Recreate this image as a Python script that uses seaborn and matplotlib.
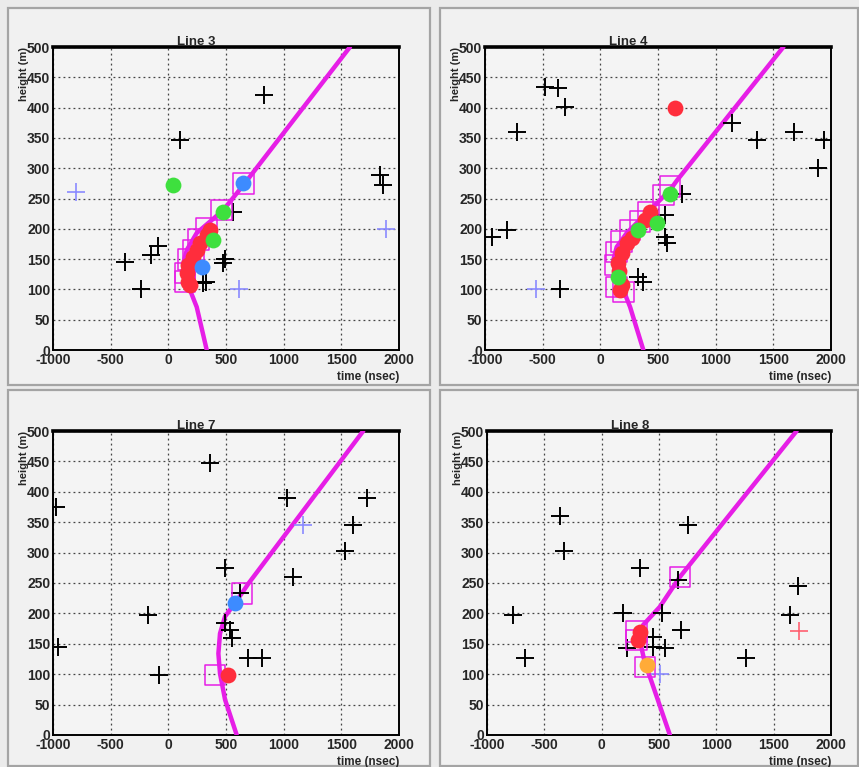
import matplotlib
matplotlib.use("Agg")
import matplotlib.pyplot as plt
from matplotlib.patches import Rectangle
from matplotlib.ticker import MultipleLocator
import seaborn as sns

sns.set_style("white")
plt.rcParams['font.family'] = ['Liberation Sans', 'DejaVu Sans']

# ---------------- data ----------------
titles = ["Line 3", "Line 4", "Line 7", "Line 8"]
x_ticks = [-1000, -500, 0, 500, 1000, 1500, 2000]
x_tick_labels = ["-1000", "-500", "0", "500", "1000", "1500", "2000"]
y_ticks = [0, 50, 100, 150, 200, 250, 300, 350, 400, 450, 500]
y_tick_labels = ["0", "50", "100", "150", "200", "250", "300", "350", "400", "450", "500"]

# Line 3
l3_curve_t = [333, 246, 188, 140, 130, 160, 246, 362, 477, 650, 1575]
l3_curve_h = [0, 71, 99, 125, 143, 165, 193, 212, 231, 272, 500]
l3_black_t = [830, 100, 1835, 1865, 560, -90, -150, -380, -235, 490, 475, 300, 330]
l3_black_h = [420, 346, 288, 272, 228, 172, 157, 145, 100, 150, 143, 110, 112]
l3_lblue_t = [-800, 1890, 615]
l3_lblue_h = [260, 200, 100]
l3_sq_t = [650, 462, 333, 260, 217, 174, 145, 145]
l3_sq_h = [275, 231, 201, 182, 165, 149, 127, 113]
l3_red_t = [362, 333, 275, 246, 217, 174, 160, 174, 188]
l3_red_h = [198, 190, 176, 165, 154, 140, 127, 113, 107]
l3_green_t = [44, 477, 390]
l3_green_h = [272, 228, 182]
l3_blue_t = [650, 290]
l3_blue_h = [275, 137]

# Line 4
l4_curve_t = [373, 258, 200, 130, 113, 142, 229, 344, 489, 604, 665, 1587]
l4_curve_h = [0, 71, 99, 127, 149, 170, 193, 215, 242, 264, 280, 500]
l4_black_t = [-480, -365, -305, -725, -810, -940, -350, 1140, 1355, 1675, 1935, 1890, 706, 561, 576, 560, 373, 330]
l4_black_h = [434, 433, 401, 360, 198, 187, 100, 374, 346, 360, 346, 300, 258, 223, 176, 187, 113, 120]
l4_lblue_t = [-560]
l4_lblue_h = [100]
l4_sq_t = [604, 547, 417, 344, 258, 186, 142, 128, 142, 200]
l4_sq_h = [270, 256, 228, 212, 198, 179, 162, 140, 104, 96]
l4_red_t = [171, 186, 160, 156, 186, 229, 272, 388, 431, 645]
l4_red_h = [99, 107, 130, 143, 160, 176, 184, 215, 228, 400]
l4_green_t = [604, 489, 330, 156]
l4_green_h = [258, 209, 198, 121]

# Line 7
l7_curve_t = [593, 492, 448, 434, 448, 492, 578, 637, 694, 1690]
l7_curve_h = [0, 58, 101, 134, 167, 195, 217, 233, 249, 500]
l7_black_t = [360, -970, 1025, 1720, 1605, 1530, -175, -955, -80, 492, 1084, 622, 492, 535, 550, 694, 810]
l7_black_h = [448, 375, 389, 389, 345, 303, 198, 145, 99, 274, 260, 233, 184, 173, 159, 126, 126]
l7_lblue_t = [1170]
l7_lblue_h = [345]
l7_sq_t = [637, 405]
l7_sq_h = [233, 99]
l7_red_t = [520]
l7_red_h = [99]
l7_blue_t = [578]
l7_blue_h = [217]

# Line 8
l8_curve_t = [595, 420, 377, 333, 362, 508, 682, 1700]
l8_curve_h = [0, 96, 118, 156, 181, 211, 260, 500]
l8_black_t = [-360, -325, 757, 1715, 1645, -773, -665, 333, 667, 188, 522, 696, 217, 449, 449, 551, 1262]
l8_black_h = [360, 303, 345, 245, 198, 198, 126, 274, 255, 200, 200, 173, 143, 162, 145, 143, 126]
l8_lblue_t = [508]
l8_lblue_h = [101]
l8_redx_t = [1725]
l8_redx_h = [171]
l8_sq_t = [682, 304, 304, 377]
l8_sq_h = [260, 170, 156, 112]
l8_red_t = [333, 318]
l8_red_h = [170, 156]
l8_orange_t = [391]
l8_orange_h = [115]

MAG = "#e61ee6"
RED = "#ff2d3c"
GREEN = "#3ee03e"
BLUE = "#3d8bff"
LBLUE = "#8a8aff"
ORANGE = "#ffab38"

panels = [
    dict(curve=(l3_curve_t, l3_curve_h), black=(l3_black_t, l3_black_h),
         crosses=[(l3_lblue_t, l3_lblue_h, LBLUE)], sq=(l3_sq_t, l3_sq_h),
         dots=[(l3_red_t, l3_red_h, RED), (l3_green_t, l3_green_h, GREEN), (l3_blue_t, l3_blue_h, BLUE)]),
    dict(curve=(l4_curve_t, l4_curve_h), black=(l4_black_t, l4_black_h),
         crosses=[(l4_lblue_t, l4_lblue_h, LBLUE)], sq=(l4_sq_t, l4_sq_h),
         dots=[(l4_red_t, l4_red_h, RED), (l4_green_t, l4_green_h, GREEN)]),
    dict(curve=(l7_curve_t, l7_curve_h), black=(l7_black_t, l7_black_h),
         crosses=[(l7_lblue_t, l7_lblue_h, LBLUE)], sq=(l7_sq_t, l7_sq_h),
         dots=[(l7_red_t, l7_red_h, RED), (l7_blue_t, l7_blue_h, BLUE)]),
    dict(curve=(l8_curve_t, l8_curve_h), black=(l8_black_t, l8_black_h),
         crosses=[(l8_lblue_t, l8_lblue_h, LBLUE), (l8_redx_t, l8_redx_h, "#ff6070")], sq=(l8_sq_t, l8_sq_h),
         dots=[(l8_red_t, l8_red_h, RED), (l8_orange_t, l8_orange_h, ORANGE)]),
]

W, H = 859, 767
fig = plt.figure(figsize=(W / 100, H / 100), dpi=100)
fig.patch.set_facecolor("#ebebeb")

# pads (pixel boxes: x0, y0_top, x1, y1_bottom)
pads = [(8, 8, 430, 385), (440, 8, 858, 385), (8, 390, 430, 766), (440, 390, 858, 766)]
for x0, y0, x1, y1 in pads:
    fig.patches.append(Rectangle((x0 / W, 1 - y1 / H), (x1 - x0) / W, (y1 - y0) / H,
                                 transform=fig.transFigure, facecolor="#f1f1f1",
                                 edgecolor="#a4a4a4", linewidth=1.6, zorder=-5))

# axes boxes in pixels: left, top, right, bottom
axboxes = [(53, 47, 399, 350), (485, 47, 831, 350), (53, 431, 399, 735), (487, 431, 831, 735)]

for i, (p, box) in enumerate(zip(panels, axboxes)):
    l, t, r, b = box
    ax = fig.add_axes([l / W, 1 - b / H, (r - l) / W, (b - t) / H])
    ax.set_zorder(1)
    ax.set_facecolor("#f4f4f4")

    sns.lineplot(x=p["curve"][0], y=p["curve"][1], sort=False, estimator=None,
                 color=MAG, linewidth=3.2, ax=ax, zorder=3)
    sns.scatterplot(x=p["black"][0], y=p["black"][1], marker="+", s=160,
                    color="black", linewidth=1.4, ax=ax, zorder=4)
    for ct, ch, cc in p["crosses"]:
        sns.scatterplot(x=ct, y=ch, marker="+", s=160, color=cc, linewidth=1.2, ax=ax, zorder=4)
    sns.scatterplot(x=p["sq"][0], y=p["sq"][1], marker="s", s=220, facecolor="none",
                    edgecolor=MAG, linewidth=1.1, ax=ax, zorder=5)
    for dt, dh, dc in p["dots"]:
        sns.scatterplot(x=dt, y=dh, marker="o", s=130, color=dc, edgecolor=dc,
                        linewidth=0, ax=ax, zorder=6)

    ax.set_xlim(-1000, 2000)
    ax.set_ylim(0, 500)
    ax.set_xticks(x_ticks)
    ax.set_xticklabels(x_tick_labels, fontsize=10, fontweight="bold")
    ax.set_yticks(y_ticks)
    ax.set_yticklabels(y_tick_labels, fontsize=10, fontweight="bold")
    ax.xaxis.set_minor_locator(MultipleLocator(100))
    ax.yaxis.set_minor_locator(MultipleLocator(5))
    ax.tick_params(axis="both", which="major", direction="in", length=8, width=1.2,
                   color="black", pad=2, top=False, right=False)
    ax.tick_params(axis="both", which="minor", direction="in", length=4, width=1.0,
                   color="black", top=False, right=False)
    ax.grid(True, which="major", linestyle=(0, (1.5, 2.5)), color="#444444", linewidth=0.9)
    ax.set_axisbelow(True)
    for s in ["left", "right", "bottom"]:
        ax.spines[s].set_color("black")
        ax.spines[s].set_linewidth(1.4)
    ax.spines["top"].set_color("black")
    ax.spines["top"].set_linewidth(2.6)
    ax.set_xlabel("")
    ax.set_ylabel("")

    ax.text(0.415, 1.018, titles[i], transform=ax.transAxes, ha="center", va="center",
            fontsize=9.5, fontweight="bold", zorder=10)
    ax.text(-0.085, 1.0, "height (m)", transform=ax.transAxes, rotation=90,
            ha="center", va="top", fontsize=8, fontweight="bold")
    ax.text(1.0, -0.09, "time (nsec)", transform=ax.transAxes, ha="right", va="center",
            fontsize=8.5, fontweight="bold")

fig.savefig("out.png", dpi=100, facecolor=fig.get_facecolor())
